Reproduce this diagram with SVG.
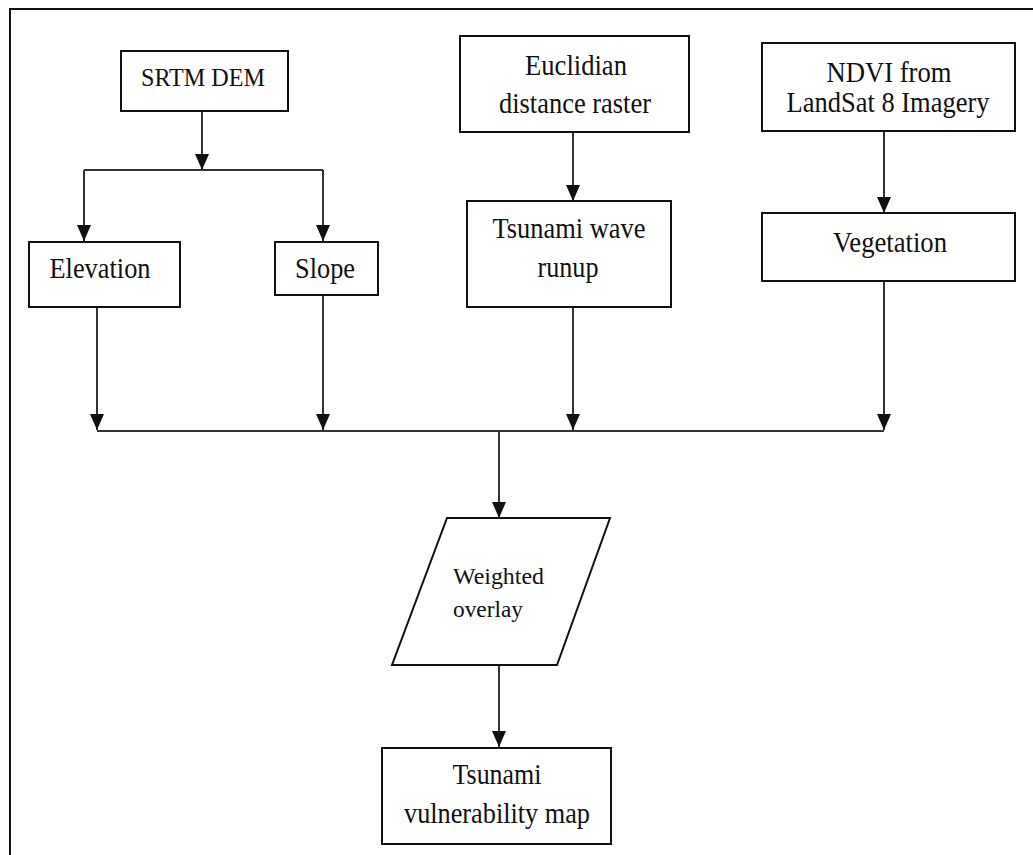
<svg xmlns="http://www.w3.org/2000/svg" width="1033" height="855" viewBox="0 0 1033 855">
<style>
.box{fill:#fff;stroke:#111;stroke-width:2}
.t{font-family:"Liberation Serif","Times New Roman",serif;font-size:30px;fill:#111;text-anchor:middle}
.s{font-size:26px}
.w{font-size:24px;text-anchor:start}
.c{fill:none;stroke:#333;stroke-width:2}
.frame{fill:none;stroke:#111;stroke-width:2}
</style>
<defs>
<marker id="ah" markerUnits="userSpaceOnUse" markerWidth="16" markerHeight="14" viewBox="0 0 16 14" refX="16" refY="7" orient="auto">
<path d="M0,0 L16,7 L0,14 z" fill="#111"/>
</marker>
</defs>
<rect width="1033" height="855" fill="#fff"/>
<path class="frame" d="M10,855 V9 H1033"/>
<g id="connectors">
<path class="c" d="M202,111 V170" marker-end="url(#ah)"/>
<path class="c" d="M84,170 H323"/>
<path class="c" d="M84,170 V241" marker-end="url(#ah)"/>
<path class="c" d="M323,170 V241" marker-end="url(#ah)"/>
<path class="c" d="M573,132 V201" marker-end="url(#ah)"/>
<path class="c" d="M884,131 V213" marker-end="url(#ah)"/>
<path class="c" d="M97,307 V430" marker-end="url(#ah)"/>
<path class="c" d="M323,295 V430" marker-end="url(#ah)"/>
<path class="c" d="M573,307 V430" marker-end="url(#ah)"/>
<path class="c" d="M884,281 V430" marker-end="url(#ah)"/>
<path class="c" d="M97,431 H884" stroke="#111"/>
<path class="c" d="M499,431 V518" marker-end="url(#ah)"/>
<path class="c" d="M499,665 V747" marker-end="url(#ah)"/>
</g>
<g id="srtm">
<rect class="box" x="121" y="51" width="167" height="60"/>
<text class="t s" x="203" y="86" textLength="124" lengthAdjust="spacingAndGlyphs">SRTM DEM</text>
</g>
<g id="euclidian">
<rect class="box" x="460" y="36" width="229" height="96"/>
<text class="t" x="576" y="75" textLength="102" lengthAdjust="spacingAndGlyphs">Euclidian</text>
<text class="t" x="575" y="113" textLength="152" lengthAdjust="spacingAndGlyphs">distance raster</text>
</g>
<g id="ndvi">
<rect class="box" x="762" y="43" width="253" height="88"/>
<text class="t" x="889" y="82" textLength="125" lengthAdjust="spacingAndGlyphs">NDVI from</text>
<text class="t" x="888" y="112" textLength="203" lengthAdjust="spacingAndGlyphs">LandSat 8 Imagery</text>
</g>
<g id="elevation">
<rect class="box" x="29" y="242" width="151" height="65"/>
<text class="t" x="100" y="278" textLength="101" lengthAdjust="spacingAndGlyphs">Elevation</text>
</g>
<g id="slope">
<rect class="box" x="275" y="242" width="103" height="53"/>
<text class="t" x="325" y="278" textLength="60" lengthAdjust="spacingAndGlyphs">Slope</text>
</g>
<g id="runup">
<rect class="box" x="467" y="201" width="204" height="106"/>
<text class="t" x="569" y="238" textLength="153" lengthAdjust="spacingAndGlyphs">Tsunami wave</text>
<text class="t" x="568" y="277" textLength="61" lengthAdjust="spacingAndGlyphs">runup</text>
</g>
<g id="vegetation">
<rect class="box" x="762" y="213" width="253" height="68"/>
<text class="t" x="890" y="252" textLength="114" lengthAdjust="spacingAndGlyphs">Vegetation</text>
</g>
<g id="overlay">
<polygon class="box" points="447,518 610,518 557,665 392,665" stroke-width="1.5"/>
<text class="t w" x="453" y="584" textLength="91" lengthAdjust="spacingAndGlyphs">Weighted</text>
<text class="t w" x="453" y="617" textLength="70" lengthAdjust="spacingAndGlyphs">overlay</text>
</g>
<g id="map">
<rect class="box" x="382" y="748" width="229" height="96"/>
<text class="t" x="497" y="784" textLength="89" lengthAdjust="spacingAndGlyphs">Tsunami</text>
<text class="t" x="497" y="823" textLength="186" lengthAdjust="spacingAndGlyphs">vulnerability map</text>
</g>
</svg>
